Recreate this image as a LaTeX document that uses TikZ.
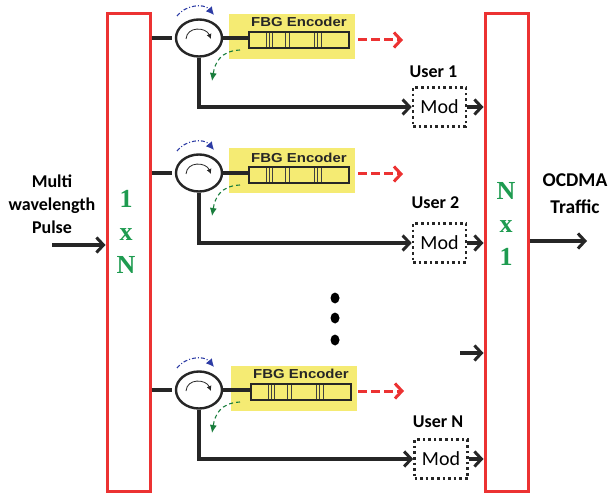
\documentclass[tikz,border=0pt]{standalone}
\usepackage{fontspec}
\setmainfont{Carlito}
\newfontfamily\arialfont[FakeStretch=1.15]{Liberation Sans}
\newfontfamily\timesfont{Liberation Serif}
\usetikzlibrary{shapes.geometric,arrows.meta,positioning}
\definecolor{boxred}{RGB}{236,50,50}
\definecolor{padyellow}{RGB}{245,235,115}
\definecolor{labelgreen}{RGB}{30,155,80}
\definecolor{tapblue}{RGB}{45,60,165}
\definecolor{tapgreen}{RGB}{25,125,60}
\tikzstyle{coupler} = [rectangle, draw=boxred, line width=3pt, minimum width=43pt,
minimum height=477pt, inner sep=0pt]
\tikzstyle{circulator} = [ellipse, draw=black!85, fill=white, line width=2.4pt,
minimum width=46pt, minimum height=37pt, inner sep=0pt]
\tikzstyle{pad} = [rectangle, fill=padyellow, minimum width=126pt, minimum height=45pt, inner sep=0pt]
\tikzstyle{grating} = [rectangle, draw=black!85, line width=1.6pt, minimum width=100pt,
minimum height=16pt, inner sep=0pt,
path picture={\foreach \t in {-33,-30,-27,-14,-10,15,18,22}
{\draw [black!75, line width=0.8pt] ([xshift=\t pt]path picture bounding box.north) -- ([xshift=\t pt]path picture bounding box.south);}}]
\tikzstyle{mod} = [rectangle, draw=black!85, line width=2.6pt, dash pattern=on 2.6pt off 3pt,
minimum width=53pt, minimum height=39pt, inner sep=0pt, font=\fontsize{20}{20}\selectfont]
\tikzstyle{fbgtext} = [font=\arialfont\bfseries\fontsize{13}{13}\selectfont, text=black!85, inner sep=0pt]
\tikzstyle{label} = [font=\bfseries\fontsize{18}{23}\selectfont, align=center, inner sep=0pt]
\tikzstyle{bigger} = [font=\bfseries\fontsize{19.5}{27}\selectfont]
\tikzstyle{ratio} = [font=\timesfont\bfseries\fontsize{26}{34}\selectfont, text=labelgreen, align=center, inner sep=0pt]
\tikzstyle{line} = [draw=black!85, line width=3.3pt]
\tikzstyle{arrow} = [line, -{Straight Barb[length=7pt,width=15pt,line width=3pt]}]
\tikzstyle{reflect} = [draw=boxred, line width=3pt, dash pattern=on 9pt off 4pt,
-{Straight Barb[length=7pt,width=15pt,line width=3pt]}]
\tikzstyle{bluetap} = [draw=tapblue, line width=1.1pt, dash pattern=on 4pt off 2pt on 1pt off 2pt, -{Latex[length=8pt,width=8pt]}]
\tikzstyle{greentap} = [draw=tapgreen, line width=1.1pt, dash pattern=on 4pt off 3pt, -{Latex[length=8pt,width=7pt]}]
\tikzstyle{turn} = [draw=black!85, line width=0.8pt, -{Latex[length=5pt,width=5pt]}]
\begin{document}
\begin{tikzpicture}[x=1pt, y=-1pt, node distance=20pt]
\useasboundingbox (0,0) rectangle (610,494);
% Place nodes
\node [coupler] (s) at (128.5,252.5) {};
\node [coupler] (r) at (506.5,252.5) {};
\node [ratio] (sl) at (126,232) {1\\[-1pt]x\\[-1pt]N};
\node [ratio] (rl) at (506,224) {N\\[-1pt]x\\[-1pt]1};
\node [label] (in) at (52,204) {Multi\\wavelength\\Pulse};
\node [label, bigger] (out) at (575,194) {OCDMA\\Traffic};
\coordinate (ia) at (52,245);
\coordinate (oa) at (587,241);

% First branch
\node [circulator] (c1) at (199,38) {};
\node [pad, right of=c1, node distance=93pt, yshift=1.5pt] (e1) {};
\node [grating, right of=e1, node distance=7pt, yshift=-3.5pt] (g1) {};
\node [fbgtext, above of=g1, node distance=18pt] (t1) {FBG Encoder};
\node [mod] (m1) at (439.5,107) {Mod};
\node [label, above of=m1, node distance=35pt, xshift=-6pt] (u1) {User 1};
\coordinate (d1a) at (358,40);
\coordinate (d1b) at (403,40);

% Second branch
\node [circulator] (c2) at (199,173) {};
\node [pad, right of=c2, node distance=93pt, yshift=2pt] (e2) {};
\node [grating, right of=e2, node distance=7pt, yshift=-4pt] (g2) {};
\node [fbgtext, above of=g2, node distance=17pt] (t2) {FBG Encoder};
\node [mod] (m2) at (439.5,243) {Mod};
\node [label, above of=m2, node distance=40pt, xshift=-4pt] (u2) {User 2};
\coordinate (d2a) at (358,174);
\coordinate (d2b) at (403,174);

% Last branch
\node [circulator] (c3) at (199,390) {};
\node [pad, right of=c3, node distance=95pt, yshift=1.5pt] (e3) {};
\node [grating, right of=e3, node distance=7pt, yshift=-3.5pt] (g3) {};
\node [fbgtext, above of=g3, node distance=18pt] (t3) {FBG Encoder};
\node [mod] (m3) at (441,459) {Mod};
\node [label, above of=m3, node distance=37pt, xshift=-3pt] (u3) {User N};
\coordinate (d3a) at (358,391);
\coordinate (d3b) at (404,391);

% Dots between branches
\foreach \n/\y in {a/298,b/318,c/340}
{\node [ellipse, fill=black, minimum width=9pt, minimum height=11pt, inner sep=0pt] (dot\n) at (335,\y) {};}
\coordinate (fa) at (460,353);

% Draw edges
\path [arrow] (ia) -- (ia -| s.west);
\path [arrow] (r.east |- oa) -- (oa);
\path [arrow] (fa) -- (fa -| r.west);
\foreach \i in {1,2,3}
{
\path [line] (c\i -| s.east) -- ([xshift=-3pt]c\i.west);
\path [line] (c\i.east) -- (c\i -| g\i.west);
\path [arrow] (c\i.south) |- (m\i.west);
\path [arrow] (m\i.east) -- (m\i -| r.west);
\path [reflect] (d\i a) -- (d\i b);
% Small curves round each circulator
\path [turn] ([xshift=-13pt,yshift=-1pt]c\i.center) .. controls +(1,-13) and +(-5,-12) .. ([xshift=12pt,yshift=-1pt]c\i.center);
\path [bluetap] ([xshift=-22pt,yshift=22pt]c\i.center) .. controls +(8,-11) and +(-10,-12) .. ([xshift=15pt,yshift=23pt]c\i.center);
\path [greentap] ([xshift=41pt,yshift=-12pt]c\i.center) .. controls +(-20,1) and +(3,-18) .. ([xshift=13pt,yshift=-43pt]c\i.center);
}
\end{tikzpicture}
\end{document}
